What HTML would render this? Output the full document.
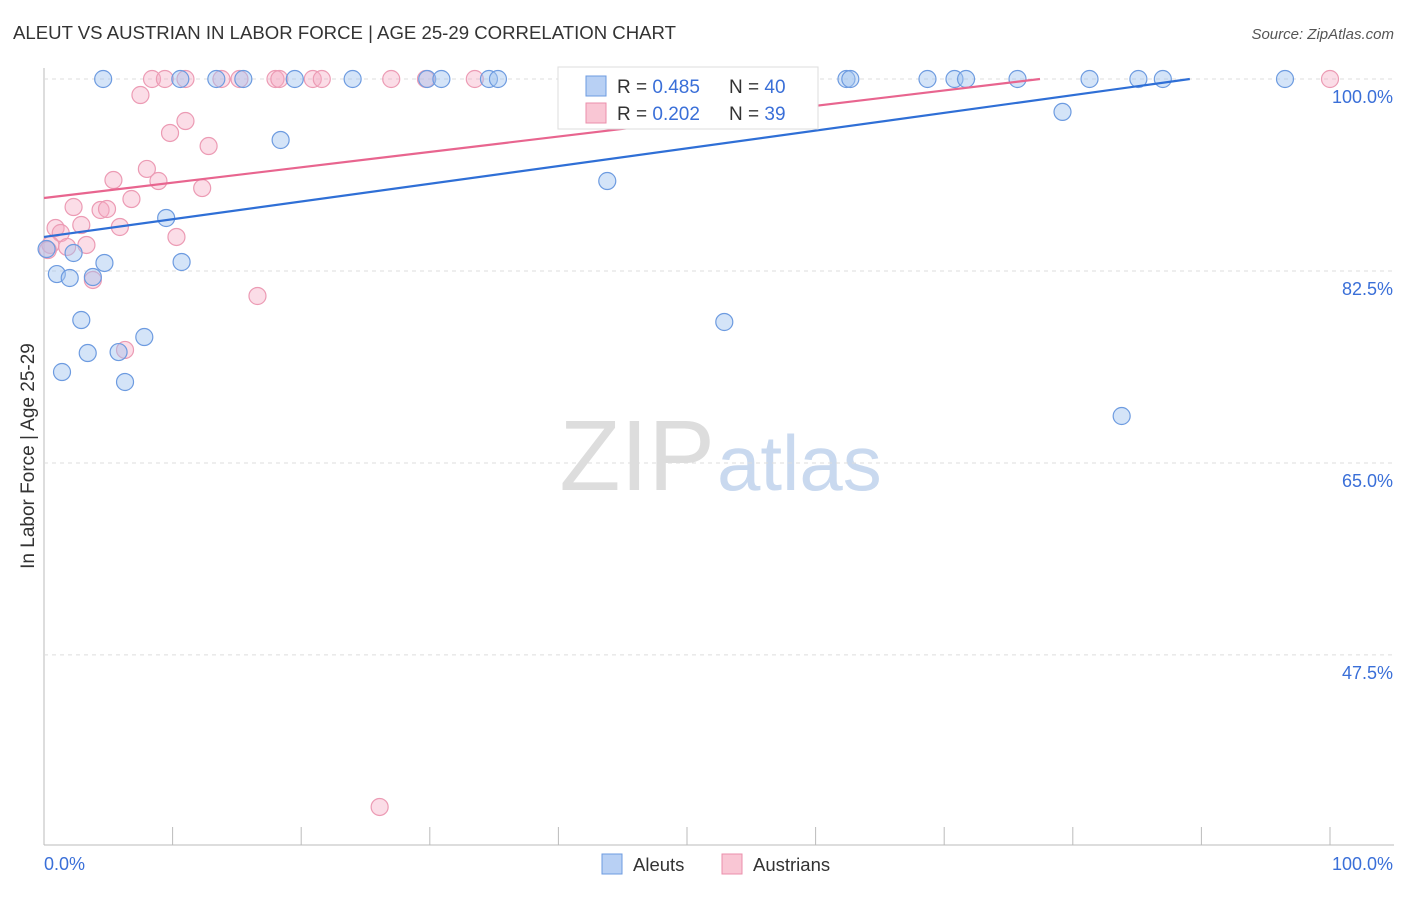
<!DOCTYPE html>
<html><head><meta charset="utf-8"><style>
body{margin:0;background:#fff;font-family:"Liberation Sans",sans-serif}
svg text{font-family:"Liberation Sans",sans-serif}
</style></head><body>
<svg id="c" width="1406" height="892">
<text x="13" y="39" font-size="18.6" fill="#333">ALEUT VS AUSTRIAN IN LABOR FORCE | AGE 25-29 CORRELATION CHART</text>
<text x="1394" y="39" font-size="15" fill="#555" font-style="italic" text-anchor="end">Source: ZipAtlas.com</text>
<text x="34" y="456" font-size="19" fill="#333" text-anchor="middle" transform="rotate(-90 34 456)">In Labor Force | Age 25-29</text>
<text x="715" y="490" font-size="100" fill="#ddd" text-anchor="end" font-family="Liberation Serif">ZIP</text>
<text x="717" y="490" font-size="78" fill="#c9d9ef">atlas</text>
<g id="grid"></g><g id="pts"></g><g id="lines"></g>
<g>
<rect x="558" y="67" width="260" height="62" fill="#fff" stroke="#ddd"/>
<rect x="586" y="76" width="20" height="20" fill="#b8d0f4" stroke="#6d9be0"/>
<rect x="586" y="103" width="20" height="20" fill="#f9c6d4" stroke="#eb8fab"/>
<text x="617" y="93" font-size="19" fill="#333">R = <tspan fill="#3a6fd8">0.485</tspan></text>
<text x="729" y="93" font-size="19" fill="#333">N = <tspan fill="#3a6fd8">40</tspan></text>
<text x="617" y="120" font-size="19" fill="#333">R = <tspan fill="#3a6fd8">0.202</tspan></text>
<text x="729" y="120" font-size="19" fill="#333">N = <tspan fill="#3a6fd8"> 39</tspan></text>
</g>
<g>
<rect x="602" y="854" width="20" height="20" fill="#b8d0f4" stroke="#6d9be0"/>
<text x="633" y="871" font-size="18.5" fill="#333">Aleuts</text>
<rect x="722" y="854" width="20" height="20" fill="#f9c6d4" stroke="#eb8fab"/>
<text x="753" y="871" font-size="18.5" fill="#333">Austrians</text>
</g>
</svg>
<script>
const yTicks=[100,82.5,65,47.5];
const xTickLabels=["0.0%","100.0%"];
const aleutX=[4.6,10.6,13.4,15.5,19.5,24,29.8,30.9,34.6,35.3,57.6,62.4,62.7,68.7,70.8,71.7,75.7,81.3,85.1,87,96.5,79.2,18.4,43.8,9.5,0.2,2.3,4.7,10.7,1,2,3.8,2.9,3.4,5.8,7.8,1.4,6.3,52.9,83.8];
const aleutY=[100,100,100,100,100,100,100,100,100,100,100,100,100,100,100,100,100,100,100,100,100,97,94.44,90.7,87.33,84.5,84.14,83.23,83.32,82.22,81.86,81.95,78.03,75.02,75.11,76.48,73.29,72.38,77.85,69.28];
const austX=[8.4,9.4,11,13.8,15.2,18,18.3,20.9,21.6,27,29.7,33.5,40.9,100,7.5,11,9.8,12.8,8,5.4,8.9,12.3,6.8,2.3,4.4,4.9,2.9,0.9,5.9,1.3,10.3,3.3,1.8,0.5,3.8,6.3,16.6,26.1,0.3];
const austY=[100,100,100,100,100,100,100,100,100,100,100,100,100,100,98.54,96.17,95.08,93.89,91.8,90.79,90.7,90.06,89.06,88.33,88.06,88.15,86.69,86.42,86.51,85.96,85.6,84.87,84.69,84.87,81.68,75.3,80.22,33.64,84.41];
const trendIntercept=[85.6,89.15];
const trendEnd=[89.1,77.45];
const X=v=>44+v*12.86, Y=v=>79+(100-v)*10.97;
const NS="http://www.w3.org/2000/svg";
function mk(p,t,a){const e=document.createElementNS(NS,t);for(const k in a)e.setAttribute(k,a[k]);p.appendChild(e);return e;}
const grid=document.getElementById('grid');
let ax=mk(grid,'line',{x1:44,y1:68,x2:44,y2:845,stroke:'#bbb'});


let bx=mk(grid,'line',{x1:44,y1:845,x2:1394,y2:845,stroke:'#bbb'});


yTicks.forEach(t=>{
 const g=mk(grid,'line',{x1:44,y1:Y(t),x2:1394,y2:Y(t),stroke:'#ddd','stroke-dasharray':'4 4'});
 
 
 const l=mk(grid,'text',{x:1393,y:Y(t)+24,'font-size':18,fill:'#3a6fd8','text-anchor':'end'});
 l.textContent=t.toFixed(1)+'%';
 
 
});
for(let i=0;i<=10;i++){
 const t=mk(grid,'line',{x1:X(i*10),y1:827,x2:X(i*10),y2:845,stroke:'#bbb'});
 
 
}
xTickLabels.forEach((s,i)=>{
 const l=mk(grid,'text',{x:i?1393:44,y:870,'font-size':18,fill:'#3a6fd8','text-anchor':i?'end':'start'});
 l.textContent=s;
 
 
});
const pts=document.getElementById('pts');
austX.forEach((v,i)=>{
 const c=mk(pts,'circle',{cx:X(v),cy:Y(austY[i]),r:8.5,fill:'rgba(246,170,194,0.4)',stroke:'#ec9bb4','stroke-width':1.2});
 
 
});
aleutX.forEach((v,i)=>{
 const c=mk(pts,'circle',{cx:X(v),cy:Y(aleutY[i]),r:8.5,fill:'rgba(160,196,240,0.45)',stroke:'#6d9be0','stroke-width':1.2});
 
 
});
const lines=document.getElementById('lines');
const cols=['#2f6fd6','#e8658f'];
[0,1].forEach(i=>{
 const l=mk(lines,'line',{x1:X(0),y1:Y(trendIntercept[i]),x2:X(trendEnd[i]),y2:Y(100),stroke:cols[i],'stroke-width':2.2});
 
 
});
</script>
</body></html>
